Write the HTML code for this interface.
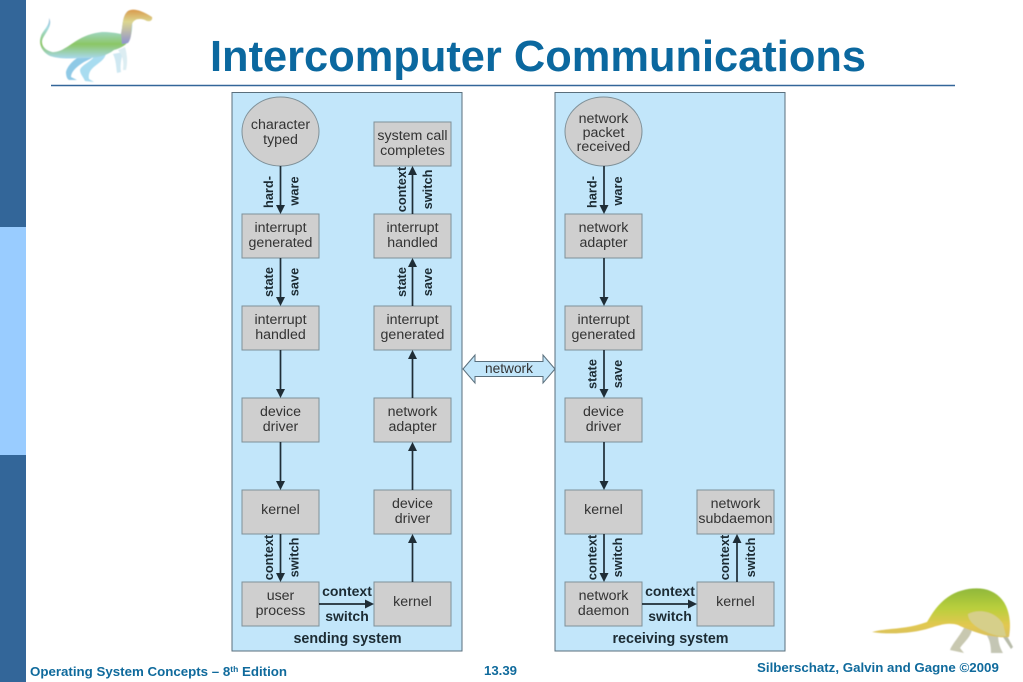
<!DOCTYPE html>
<html><head><meta charset="utf-8"><style>
html,body{margin:0;padding:0;background:#fff;width:1023px;height:682px;overflow:hidden}
svg{display:block}
text{font-family:"Liberation Sans",sans-serif}
.n{font-size:14.2px;fill:#333;text-anchor:middle}
.b{font-size:12.8px;font-weight:bold;fill:#1c2b33;text-anchor:middle}
.h{font-size:14px;font-weight:bold;fill:#1c2b33;text-anchor:middle}
.f{font-weight:bold;fill:#0f6a9c}
.box{fill:#cfcfcf;stroke:#7f9098;stroke-width:1}
.pan{fill:#c2e6fa;stroke:#5a6f7c;stroke-width:1}
.l{stroke:#1f2d36;stroke-width:1.7;fill:none}
.a{fill:#1f2d36}
</style></head><body>
<svg width="1023" height="682" viewBox="0 0 1023 682" xmlns="http://www.w3.org/2000/svg">
<defs>
<linearGradient id="g1" x1="0" y1="0" x2="0" y2="1"><stop offset="0" stop-color="#7f96cc"/><stop offset=".35" stop-color="#a5dbe2"/><stop offset=".7" stop-color="#8cc665"/><stop offset="1" stop-color="#a8d8ee"/></linearGradient>
<linearGradient id="g2" x1="0" y1="0" x2="0" y2="1"><stop offset="0" stop-color="#8fb83a"/><stop offset=".4" stop-color="#b9cf3c"/><stop offset=".75" stop-color="#e2c850"/><stop offset="1" stop-color="#d8c060"/></linearGradient>
<linearGradient id="g3" x1="0" y1="0" x2="0" y2="1"><stop offset="0" stop-color="#d99a4c"/><stop offset=".35" stop-color="#dcd68f"/><stop offset="1" stop-color="#8e93d0"/></linearGradient>
<filter id="s" x="-5%" y="-5%" width="110%" height="110%"><feGaussianBlur stdDeviation="0.45"/></filter>
</defs>
<rect width="1023" height="682" fill="#fff"/>
<rect x="0" y="0" width="26" height="227" fill="#336699"/>
<rect x="0" y="227" width="26" height="228" fill="#99ccff"/>
<rect x="0" y="455" width="26" height="227" fill="#336699"/>
<line x1="51" y1="85.5" x2="955" y2="85.5" stroke="#336699" stroke-width="1.5"/>
<text x="210" y="71" class="f" font-size="44" textLength="656" lengthAdjust="spacingAndGlyphs" style="fill:#0b689f">Intercomputer Communications</text>

<!-- top dino -->
<g filter="url(#s)">
<path d="M113 54C116 60 116 66 117 73L121 72C120 66 121 60 123 52Z" fill="#cfe8f2"/>
<path d="M118 50C123 56 124 62 123 70L126 70C128 62 127 54 125 47Z" fill="#dcedf2"/>
<path d="M84 54C76 58 68 64 66 72C66 76 67 79 69 80L77 80L71 77C71 72 76 67 84 62L92 58Z" fill="#8fc9e6"/>
<path d="M96 54C92 62 82 64 80 70C80 74 84 78 85 81L94 82L89 79C88 74 90 70 95 66C100 62 104 60 106 54Z" fill="#a8dcf0"/>
<path d="M49 18C53 25 46 32 43 38C40 44 44 50 52 52C60 53 68 46 76 41C84 36 92 33 102 32C110 32 116 33 121 34C123 26 122 16 128 11L130 13C133 20 133 30 130 38C128 44 122 48 114 50C106 56 98 58 88 58C76 58 62 60 50 56C42 52 38 44 41 36C43 30 50 26 49 18Z" fill="url(#g1)"/>
<path d="M121 34C123 26 122 16 128 11C133 8 141 10 152 17C153 20 150 23 145 20C139 18 134 19 132 24C131 32 132 38 128 43L122 44Z" fill="url(#g3)"/>
</g>
<!-- bottom dino -->
<g filter="url(#s)">
<path d="M965 626L972 630C970 638 964 642 960 648L964 653L950 650C952 644 960 636 965 626Z" fill="#c8c8b0"/>
<path d="M986 634L998 634C998 642 1000 648 1003 653L991 653C991 646 990 640 986 634Z" fill="#c4c6b4"/>
<path d="M1001 634L1006 634L1013 647L1011 649Z" fill="#b8bcaa"/>
<path d="M872 632C885 628 905 630 927 622C933 612 938 604 948 597C958 590 972 587 984 589C994 591 1002 597 1006 606C1010 615 1011 625 1009 637C1000 638 992 636 985 635C975 632 966 629 958 625C948 622 940 625 930 628C915 633 890 635 872 632Z" fill="url(#g2)"/>
<path d="M968 614C980 608 996 612 1003 624L1006 636C998 637 990 634 982 630C974 626 968 620 968 614Z" fill="#d6cf8a"/>
</g>

<!-- panels -->
<rect class="pan" x="232" y="92.5" width="230" height="558.5"/>
<rect class="pan" x="555" y="92.5" width="230" height="558.5"/>

<!-- left boxes -->
<ellipse cx="280.5" cy="131.5" rx="38.5" ry="34.5" fill="#cfcfcf" stroke="#7f9098"/>
<rect class="box" x="242" y="214" width="77" height="44"/>
<rect class="box" x="242" y="306" width="77" height="44"/>
<rect class="box" x="242" y="398" width="77" height="44"/>
<rect class="box" x="242" y="490" width="77" height="44"/>
<rect class="box" x="242" y="582" width="77" height="44"/>
<rect class="box" x="374" y="122" width="77" height="44"/>
<rect class="box" x="374" y="214" width="77" height="44"/>
<rect class="box" x="374" y="306" width="77" height="44"/>
<rect class="box" x="374" y="398" width="77" height="44"/>
<rect class="box" x="374" y="490" width="77" height="44"/>
<rect class="box" x="374" y="582" width="77" height="44"/>

<!-- right boxes -->
<ellipse cx="603.5" cy="131.5" rx="38.5" ry="34.5" fill="#cfcfcf" stroke="#7f9098"/>
<rect class="box" x="565" y="214" width="77" height="44"/>
<rect class="box" x="565" y="306" width="77" height="44"/>
<rect class="box" x="565" y="398" width="77" height="44"/>
<rect class="box" x="565" y="490" width="77" height="44"/>
<rect class="box" x="565" y="582" width="77" height="44"/>
<rect class="box" x="697" y="490" width="77" height="44"/>
<rect class="box" x="697" y="582" width="77" height="44"/>

<!-- connectors -->
<g class="l">
<path d="M280.5 166V206M280.5 258V298M280.5 350V390M280.5 442V482M280.5 534V574"/>
<path d="M412.5 582V542M412.5 490V450M412.5 398V358M412.5 306V266M412.5 214V174"/>
<path d="M319 604H366"/>
<path d="M604 166V206M604 258V298M604 350V390M604 442V482M604 534V574"/>
<path d="M737 582V542M642 604H689"/>
</g>
<g class="a">
<path d="M276 205h9l-4.500 9zM276 297h9l-4.500 9zM276 389h9l-4.500 9zM276 481h9l-4.500 9zM276 573h9l-4.500 9z"/>
<path d="M408 543h9l-4.500-9zM408 451h9l-4.500-9zM408 359h9l-4.500-9zM408 267h9l-4.500-9zM408 175h9l-4.500-9z"/>
<path d="M365 599.500v9l9-4.500z"/>
<path d="M599.500 205h9l-4.500 9zM599.500 297h9l-4.500 9zM599.500 389h9l-4.500 9zM599.500 481h9l-4.500 9zM599.500 573h9l-4.500 9z"/>
<path d="M732.500 543h9l-4.500-9z"/>
<path d="M688 599.500v9l9-4.500z"/>
</g>

<!-- network double arrow -->
<path d="M463 369L475 355V361.500H543V355L555 369L543 383V376.500H475V383Z" fill="#c2e6fa" stroke="#5a6f7c"/>
<text x="509" y="373" class="n" style="font-size:13.700px">network</text>

<!-- node labels left -->
<g class="n">
<text x="280.500" y="129">character</text><text x="280.500" y="144">typed</text>
<text x="280.500" y="232">interrupt</text><text x="280.500" y="247">generated</text>
<text x="280.500" y="324">interrupt</text><text x="280.500" y="339">handled</text>
<text x="280.500" y="416">device</text><text x="280.500" y="431">driver</text>
<text x="280.500" y="514">kernel</text>
<text x="280.500" y="600">user</text><text x="280.500" y="615">process</text>
<text x="412.500" y="140">system call</text><text x="412.500" y="155">completes</text>
<text x="412.500" y="232">interrupt</text><text x="412.500" y="247">handled</text>
<text x="412.500" y="324">interrupt</text><text x="412.500" y="339">generated</text>
<text x="412.500" y="416">network</text><text x="412.500" y="431">adapter</text>
<text x="412.500" y="508">device</text><text x="412.500" y="523">driver</text>
<text x="412.500" y="606">kernel</text>
</g>
<!-- node labels right -->
<g class="n">
<text x="603.500" y="123">network</text><text x="603.500" y="137">packet</text><text x="603.500" y="151">received</text>
<text x="603.500" y="232">network</text><text x="603.500" y="247">adapter</text>
<text x="603.500" y="324">interrupt</text><text x="603.500" y="339">generated</text>
<text x="603.500" y="416">device</text><text x="603.500" y="431">driver</text>
<text x="603.500" y="514">kernel</text>
<text x="603.500" y="600">network</text><text x="603.500" y="615">daemon</text>
<text x="735.500" y="508">network</text><text x="735.500" y="523">subdaemon</text>
<text x="735.500" y="606">kernel</text>
</g>

<!-- rotated labels -->
<g class="b">
<text transform="translate(273,192) rotate(-90)">hard-</text>
<text transform="translate(298.500,191) rotate(-90)">ware</text>
<text transform="translate(273,282) rotate(-90)">state</text>
<text transform="translate(298.500,282) rotate(-90)">save</text>
<text transform="translate(273,557.500) rotate(-90)">context</text>
<text transform="translate(298.500,557.500) rotate(-90)">switch</text>
<text transform="translate(406,189.500) rotate(-90)">context</text>
<text transform="translate(432,189.500) rotate(-90)">switch</text>
<text transform="translate(406,282) rotate(-90)">state</text>
<text transform="translate(432,282) rotate(-90)">save</text>
<text transform="translate(596.500,192) rotate(-90)">hard-</text>
<text transform="translate(622,191) rotate(-90)">ware</text>
<text transform="translate(596.500,374) rotate(-90)">state</text>
<text transform="translate(622,374) rotate(-90)">save</text>
<text transform="translate(596.500,557.500) rotate(-90)">context</text>
<text transform="translate(622,557.500) rotate(-90)">switch</text>
<text transform="translate(729,557.500) rotate(-90)">context</text>
<text transform="translate(755,557.500) rotate(-90)">switch</text>
</g>
<g class="h">
<text x="347" y="596">context</text><text x="347" y="621">switch</text>
<text x="670" y="596">context</text><text x="670" y="621">switch</text>
<text x="347.500" y="643" style="font-size:14.300px">sending system</text>
<text x="670.500" y="643" style="font-size:14.300px">receiving system</text>
</g>

<!-- footer -->
<text x="30" y="676" class="f" font-size="13.300">Operating System Concepts – 8<tspan font-size="8.500" dy="-4">th</tspan><tspan dy="4"> Edition</tspan></text>
<text x="484" y="675" class="f" font-size="13.200">13.39</text>
<text x="757" y="672" class="f" font-size="13.300">Silberschatz, Galvin and Gagne ©2009</text>
</svg>
</body></html>
